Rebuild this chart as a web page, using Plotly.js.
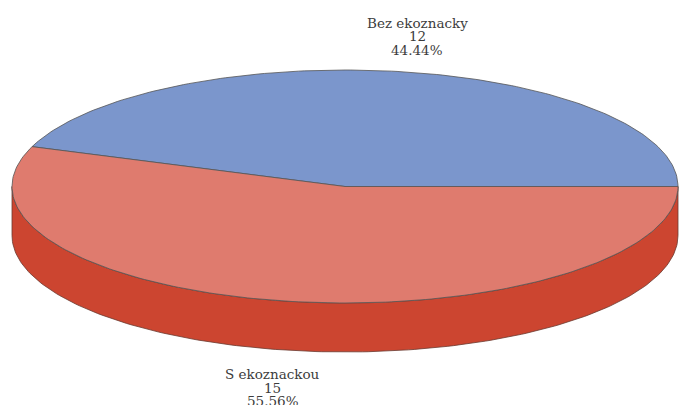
<!DOCTYPE html>
<html>
<head>
<meta charset="utf-8">
<script src="https://cdn.plot.ly/plotly-3.0.1.min.js"></script>
<style>html,body{margin:0;padding:0;background:#fff;}#chart{width:681px;height:405px;}</style>
</head>
<body>
<div id="chart"></div>
<script>
// Data
const labels = ['Bez ekoznacky', 'S ekoznackou'];
const values = [12, 15];
const topColors = ['#7b96cc', '#df7b6e'];
const sideColors = ['#5f7cb8', '#cc4530'];

// Geometry of the tilted pie (pixel units of the axes)
const W = 681, H = 405;
const cx = 345, cy = 186.5, a = 333, b = 116.5, depth = 49;
const startAngle = 0; // degrees, counter-clockwise

function pt(deg, dy) {
  const r = deg * Math.PI / 180;
  return [cx + a * Math.cos(r), cy - b * Math.sin(r) + (dy || 0)];
}
function arc(s, e, dy) {
  const out = [];
  const n = Math.max(2, Math.ceil(Math.abs(e - s)));
  for (let i = 0; i <= n; i++) out.push(pt(s + (e - s) * i / n, dy));
  return out;
}

const total = values.reduce((p, c) => p + c, 0);
let acc = startAngle;
const slices = values.map((v, i) => {
  const s = acc, e = acc + v / total * 360;
  acc = e;
  return { s, e, i };
});

const traces = [];
// side walls (only the front half, 180..360 deg, is visible)
slices.forEach(sl => {
  const ranges = [[180, 360], [540, 720]];
  ranges.forEach(([lo, hi]) => {
    const s = Math.max(sl.s, lo), e = Math.min(sl.e, hi);
    if (e > s) {
      const top = arc(s, e, 0);
      const bot = arc(e, s, depth);
      const pts = top.concat(bot);
      pts.push(top[0]);
      traces.push({
        type: 'scatter', mode: 'lines', fill: 'toself',
        x: pts.map(p => p[0]), y: pts.map(p => p[1]),
        fillcolor: sideColors[sl.i],
        line: { color: '#6a3a30', width: 0.8 },
        hoverinfo: 'skip', showlegend: false
      });
    }
  });
});
// top faces
slices.forEach(sl => {
  const pts = [[cx, cy]].concat(arc(sl.s, sl.e, 0));
  pts.push([cx, cy]);
  traces.push({
    type: 'scatter', mode: 'lines', fill: 'toself',
    x: pts.map(p => p[0]), y: pts.map(p => p[1]),
    fillcolor: topColors[sl.i],
    line: { color: '#555555', width: 0.8 },
    hoverinfo: 'skip', showlegend: false
  });
});

// labels
const annotations = [];
const lineGap = 13.6;
slices.forEach(sl => {
  const mid = (sl.s + sl.e) / 2;
  const r = mid * Math.PI / 180;
  const x = cx + a * Math.cos(r) * 1.25;
  const upper = Math.sin(r) > 0;
  const pct = (values[sl.i] / total * 100).toFixed(2) + '%';
  const lines = [labels[sl.i], String(values[sl.i]), pct];
  let y0;
  if (upper) {
    const rimY = cy - b * Math.sin(r);
    y0 = rimY - 15 - lineGap * 2 - 7;
  } else {
    const rimY = cy - b * Math.sin(r) + depth;
    y0 = rimY + 24;
  }
  lines.forEach((t, k) => {
    annotations.push({
      x: x, y: y0 + k * lineGap, xref: 'x', yref: 'y',
      text: t, showarrow: false, xanchor: 'center', yanchor: 'middle',
      font: { family: 'DejaVu Serif', size: 13.5, color: '#3c3c3c' }
    });
  });
});

const layout = {
  width: W, height: H,
  margin: { l: 0, r: 0, t: 0, b: 0 },
  paper_bgcolor: '#ffffff', plot_bgcolor: '#ffffff',
  xaxis: { range: [0, W], visible: false, fixedrange: true },
  yaxis: { range: [H, 0], visible: false, fixedrange: true },
  annotations: annotations,
  showlegend: false
};

Plotly.newPlot('chart', traces, layout, { displayModeBar: false, staticPlot: true });
</script>
</body>
</html>
